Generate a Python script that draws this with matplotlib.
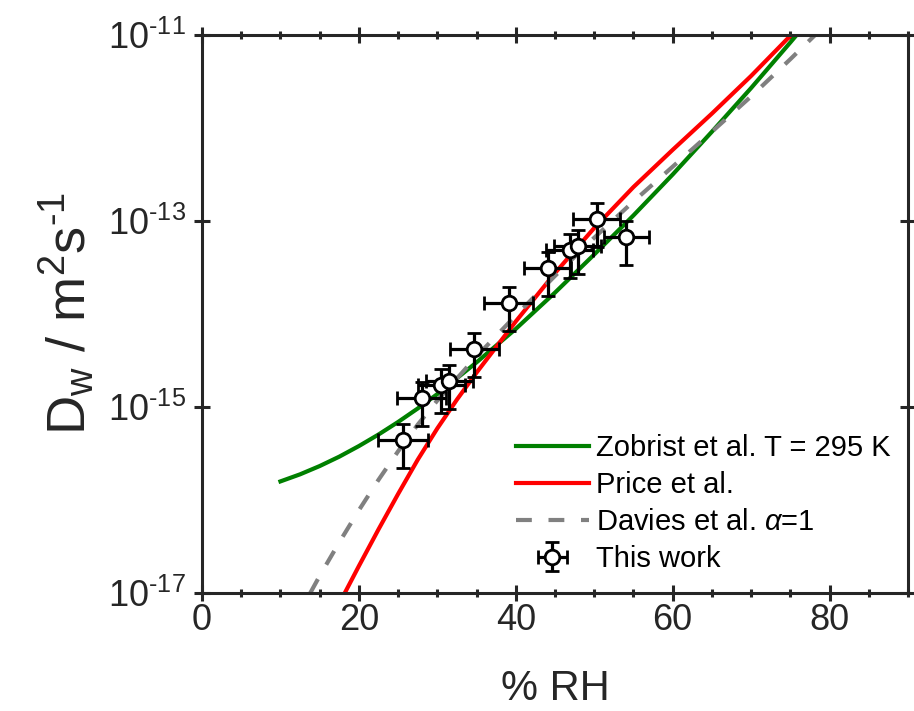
import numpy as np
import matplotlib
matplotlib.use("Agg")
import matplotlib.pyplot as plt
from matplotlib.ticker import FixedLocator, MultipleLocator, NullLocator

plt.rcParams['font.family'] = ['Liberation Sans', 'DejaVu Sans']
plt.rcParams['mathtext.fontset'] = 'custom'
plt.rcParams['mathtext.rm'] = 'Liberation Sans'
plt.rcParams['mathtext.it'] = 'Liberation Sans:italic'
plt.rcParams['mathtext.bf'] = 'Liberation Sans:bold'

# ---- data (log10 of D_w) ----
zob_rh = [10, 12.5, 15, 17.5, 20, 22.5, 25, 27.5, 30, 35, 40, 45, 50, 55, 60,
          65, 70, 75, 76]
zob_log = [-15.80, -15.724, -15.635, -15.534, -15.42, -15.296, -15.161,
           -15.016, -14.861, -14.52, -14.16, -13.77, -13.36, -12.94, -12.50,
           -12.04, -11.57, -11.08, -10.98]

price_rh = [18.2, 20, 22.5, 25, 27.5, 30, 32.5, 35, 40, 45, 50, 55, 60, 65,
            70, 75.1]
price_log = [-17.0, -16.71, -16.316, -15.935, -15.567, -15.23, -14.92, -14.63,
             -14.08, -13.56, -13.075, -12.635, -12.235, -11.845, -11.44, -11.0]

dav_rh = [13.8, 15, 17.5, 20, 22.5, 25, 27.5, 30, 35, 40, 45, 50, 55, 60, 65,
          70, 75, 78.4]
dav_log = [-17.0, -16.816, -16.455, -16.11, -15.783, -15.476, -15.19, -14.93,
           -14.456, -14.016, -13.59, -13.18, -12.79, -12.416, -12.04, -11.66,
           -11.26, -10.98]

work_rh = [25.6, 28.0, 30.5, 31.5, 34.7, 39.1, 44.1, 46.9, 47.9, 50.3, 54.1]
work_log = [-15.355, -14.906, -14.763, -14.72, -14.376, -13.885, -13.509,
            -13.312, -13.269, -12.982, -13.175]
work_rh_err = [3.2, 3.1, 3.0, 3.0, 3.1, 3.1, 3.0, 3.0, 3.0, 3.0, 2.9]
work_rel_err = 0.5

ytick_vals = [1e-17, 1e-15, 1e-13, 1e-11]
ytick_labels = [r'$\mathregular{10^{\text{-}17}}$', r'$\mathregular{10^{\text{-}15}}$',
                r'$\mathregular{10^{\text{-}13}}$', r'$\mathregular{10^{\text{-}11}}$']
xtick_vals = [0, 20, 40, 60, 80]

# ---- figure ----
W, H = 914, 711
fig = plt.figure(figsize=(W / 100, H / 100), dpi=100)
ax = fig.add_axes([202 / W, 1 - 593 / H, (908 - 202) / W, (593 - 35) / H])

dark = '#262626'
ax.plot(zob_rh, 10 ** np.array(zob_log), color='#008000', lw=3,
        label='Zobrist et al. T = 295 K', zorder=2)
ax.plot(price_rh, 10 ** np.array(price_log), color='#ff0000', lw=3,
        label='Price et al.', zorder=2)
ax.plot(dav_rh, 10 ** np.array(dav_log), color='#808080', lw=3,
        linestyle=(0, (3.8, 4.0)), label=r'Davies et al. $\alpha$=1', zorder=2)

wy = 10 ** np.array(work_log)
ax.errorbar(work_rh, wy, xerr=work_rh_err, yerr=work_rel_err * wy,
            fmt='o', color='black', ecolor='black', elinewidth=2.3,
            capsize=5, capthick=2.3, ms=10.5, mfc='white', mec='black',
            mew=2.0, label='This work', zorder=3)

ax.set_yscale('log')
ax.set_xlim(0, 90)
ax.set_ylim(1e-17, 1e-11)

ax.yaxis.set_major_locator(FixedLocator(ytick_vals))
ax.yaxis.set_minor_locator(NullLocator())
ax.set_yticklabels(ytick_labels)
ax.xaxis.set_major_locator(FixedLocator(xtick_vals))
ax.xaxis.set_minor_locator(MultipleLocator(5))

for s in ax.spines.values():
    s.set_color(dark)
    s.set_linewidth(2.2)
ax.tick_params(which='major', direction='inout', length=11, width=2.2,
               color=dark, labelcolor=dark, labelsize=26,
               top=True, right=True)
ax.tick_params(which='minor', direction='inout', length=6, width=2.2,
               color=dark, top=True, right=True)
ax.tick_params(axis='x', which='major', pad=2)
ax.tick_params(axis='y', which='major', pad=6)

ax.set_xlabel('% RH', fontsize=30, color=dark, labelpad=22)
ax.set_ylabel(r'$\mathregular{D_w}$ / $\mathregular{m^2s^{\text{-}1}}$',
              fontsize=39, color=dark, labelpad=8)

leg = ax.legend(loc='lower right', bbox_to_anchor=(1.0, 0.005), frameon=False,
                fontsize=21, handlelength=2.5, handletextpad=0.25,
                labelspacing=0.3, borderaxespad=0.2)

fig.savefig('out.png', dpi=100)
